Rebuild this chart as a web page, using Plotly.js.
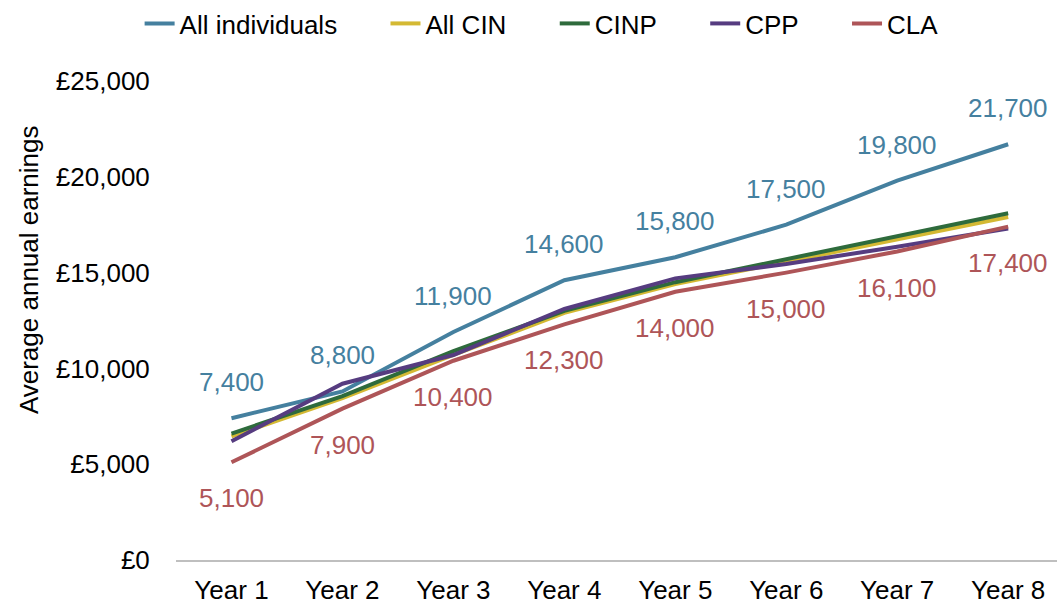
<!DOCTYPE html>
<html>
<head>
<meta charset="utf-8">
<script src="https://cdn.plot.ly/plotly-3.0.1.min.js"></script>
<style>html,body{margin:0;padding:0;background:#fff;}#chart{width:1057px;height:605px;}</style>
</head>
<body>
<div id="chart"></div>
<script>
const years = ["Year 1","Year 2","Year 3","Year 4","Year 5","Year 6","Year 7","Year 8"];
const seriesNames = ["All individuals", "All CIN", "CINP", "CPP", "CLA"];
const allIndividuals = [7400, 8800, 11900, 14600, 15800, 17500, 19800, 21700];
const allCIN = [6450, 8450, 10700, 12900, 14400, 15550, 16700, 17900];
const cinp = [6600, 8550, 10900, 13000, 14500, 15700, 16900, 18100];
const cpp = [6200, 9200, 10700, 13100, 14700, 15450, 16350, 17300];
const cla = [5100, 7900, 10400, 12300, 14000, 15000, 16100, 17400];

const FONT = "Arial, 'Liberation Sans', sans-serif";
const C_ALL = "#45809F", C_CIN = "#D4B933", C_CINP = "#2E6B3C", C_CPP = "#563C80", C_CLA = "#AE5558";
const PAD = "\u00a0\u00a0\u00a0\u00a0\u00a0\u00a0";

function line(name, y, color, last) {
  return {x: years, y: y, name: last ? name : name + PAD, type: "scatter", mode: "lines",
          line: {color: color, width: 4}, hoverinfo: "skip"};
}
const traces = [
  line(seriesNames[0], allIndividuals, C_ALL),
  line(seriesNames[1], allCIN, C_CIN),
  line(seriesNames[2], cinp, C_CINP),
  line(seriesNames[3], cpp, C_CPP),
  line(seriesNames[4], cla, C_CLA, true)
];

const fmt = v => v.toLocaleString("en-GB");
const annotations = [];
years.forEach((yr, i) => {
  annotations.push({x: yr, y: allIndividuals[i], xref: "x", yref: "y", text: fmt(allIndividuals[i]),
    showarrow: false, yshift: 36, font: {family: FONT, size: 26, color: C_ALL}});
  annotations.push({x: yr, y: cla[i], xref: "x", yref: "y", text: fmt(cla[i]),
    showarrow: false, yshift: -36, font: {family: FONT, size: 26, color: C_CLA}});
});
annotations.push({xref: "paper", yref: "paper", x: -0.167, y: 0.607, xanchor: "center", yanchor: "middle",
  text: "Average annual earnings", textangle: -90, showarrow: false,
  font: {family: FONT, size: 26, color: "#000"}});

const layout = {
  width: 1057, height: 605,
  margin: {l: 176, r: 0, t: 77, b: 45},
  paper_bgcolor: "#fff", plot_bgcolor: "#fff",
  font: {family: FONT, size: 26, color: "#000"},
  showlegend: true,
  legend: {orientation: "h", x: 0.415, xanchor: "center", y: 1.12, yanchor: "middle",
           font: {family: FONT, size: 26, color: "#000"}, tracegroupgap: 0},
  xaxis: {type: "category", range: [-0.5, 7.44], showgrid: false, zeroline: false,
          showline: true, linecolor: "#BFBFBF", linewidth: 1.5,
          ticks: "outside", ticklen: 6, tickcolor: "rgba(0,0,0,0)",
          tickfont: {family: FONT, size: 26, color: "#000"}, fixedrange: true},
  yaxis: {range: [0, 25000], dtick: 5000, tick0: 0, showgrid: false, zeroline: false,
          showline: false, tickprefix: "£", separatethousands: true, tickformat: ",d",
          ticks: "outside", ticklen: 20, tickcolor: "rgba(0,0,0,0)",
          tickfont: {family: FONT, size: 26, color: "#000"}, fixedrange: true},
  annotations: annotations
};

Plotly.newPlot("chart", traces, layout, {staticPlot: true, displayModeBar: false});
</script>
</body>
</html>
